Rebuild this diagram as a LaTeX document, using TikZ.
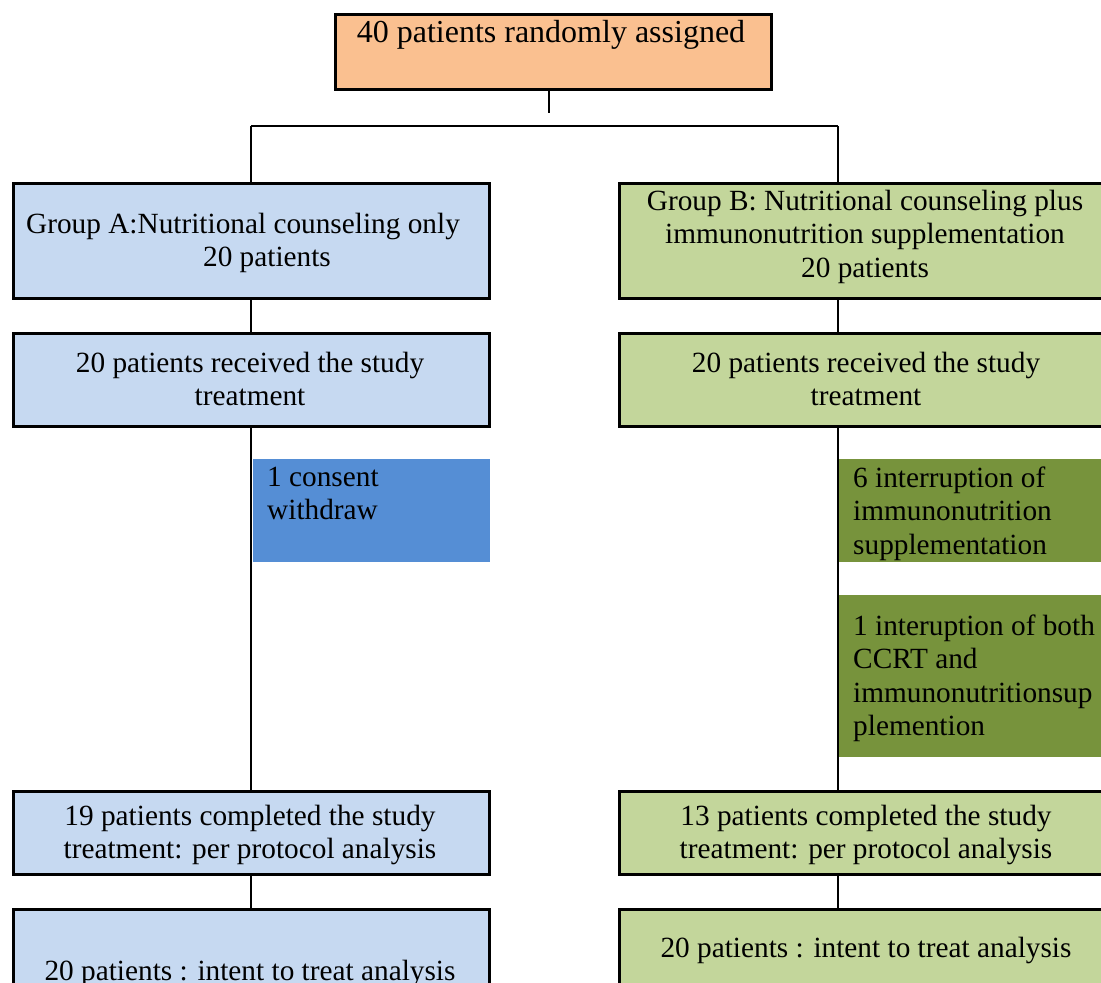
\documentclass[tikz,border=0pt]{standalone}
\usepackage{fontspec}
\setmainfont{Liberation Serif}
\definecolor{orangefill}{HTML}{FAC090}
\definecolor{bluefill}{HTML}{C6D9F1}
\definecolor{greenfill}{HTML}{C3D69B}
\definecolor{midblue}{HTML}{558ED5}
\definecolor{darkgreen}{HTML}{77933C}
\newcommand\fsmain{\fontsize{29.3}{33.5}\selectfont}
\newcommand\fstop{\fontsize{32}{36}\selectfont}
\newcommand\TopStrut{\rule{0pt}{22pt}}
\tikzset{
  box/.style={draw=black, line width=2.5pt, inner sep=0pt, anchor=north west},
  abox/.style={box, fill=bluefill, minimum width=476pt},
  bbox/.style={box, fill=greenfill, minimum width=496pt},
  note/.style={inner sep=0pt, anchor=north west, minimum width=#1},
  txt/.style={inner sep=0pt, anchor=north, align=center, font=\fsmain, text=black},
  ltxt/.style={inner sep=0pt, anchor=north west, align=left, font=\fsmain, text=black},
  conn/.style={draw=black, line width=1.8pt}
}
\begin{document}
\begin{tikzpicture}[x=1pt,y=-1pt]
\useasboundingbox (0,0) rectangle (1101,983);
\clip (0,0) rectangle (1101,983);
% boxes
\node[box, fill=orangefill, minimum width=436pt, minimum height=75pt] (top) at (334,13) {};
\node[abox, minimum height=115pt] (gA) at (12,182) {};
\node[abox, minimum height=93pt] (rA) at (12,332) {};
\node[abox, minimum height=83pt] (cA) at (12,790) {};
\node[abox, minimum height=90pt] (iA) at (12,908) {};
\node[bbox, minimum height=115pt] (gB) at (618,182) {};
\node[bbox, minimum height=93pt] (rB) at (618,332) {};
\node[bbox, minimum height=83pt] (cB) at (618,790) {};
\node[bbox, minimum height=90pt] (iB) at (618,908) {};
\node[note=237pt, fill=midblue, minimum height=103pt] (wd) at (253,459) {};
\node[note=276pt, fill=darkgreen, minimum height=103pt] (int1) at (839,459) {};
\node[note=276pt, fill=darkgreen, minimum height=162pt] (int2) at (839,595) {};
% connectors
\coordinate (stub) at (549,113);
\coordinate (hA) at (251,126);
\coordinate (hB) at (838,126);
\draw[conn] (stub |- top.south) -- (stub);
\draw[conn] (hA) -- (hB);
\draw[conn] (hA) -- (hA |- gA.north);
\draw[conn] (hB) -- (hB |- gB.north);
\draw[conn] (hA |- gA.south) -- (hA |- rA.north);
\draw[conn] (hA |- rA.south) -- (hA |- cA.north);
\draw[conn] (hA |- cA.south) -- (hA |- iA.north);
\draw[conn] (hB |- gB.south) -- (hB |- rB.north);
\draw[conn] (hB |- rB.south) -- (hB |- cB.north);
\draw[conn] (hB |- cB.south) -- (hB |- iB.north);
% texts
\node[inner sep=0pt, anchor=base, font=\fstop] (tTop) at (551,42) {40 patients randomly assigned};
\node[txt] (tgA) at (243,211) {\TopStrut Group A:Nutritional counseling only\\\hspace*{48pt}20 patients};
\node[txt] (tgB) at (865,188) {\TopStrut Group B: Nutritional counseling plus\\immunonutrition supplementation\\20 patients};
\node[txt] (trA) at (250,350) {\TopStrut 20 patients received the study\\treatment};
\node[txt] (trB) at (866,350) {\TopStrut 20 patients received the study\\treatment};
\node[ltxt] (twd) at (267,464) {\TopStrut 1 consent\\withdraw};
\node[ltxt] (tint1) at (853,465) {\TopStrut 6 interruption of\\immunonutrition\\supplementation};
\node[ltxt] (tint2) at (853,613) {\TopStrut 1 interuption of both\\CCRT and\\immunonutritionsup\\plemention};
\node[txt] (tcA) at (250,803) {\TopStrut 19 patients completed the study\\treatment: per protocol analysis};
\node[txt] (tcB) at (866,803) {\TopStrut 13 patients completed the study\\treatment: per protocol analysis};
\node[inner sep=0pt, anchor=base, font=\fsmain] (tiA) at (250,980) {20 patients : intent to treat analysis};
\node[inner sep=0pt, anchor=base, font=\fsmain] (tiB) at (866,957) {20 patients : intent to treat analysis};
\end{tikzpicture}
\end{document}
